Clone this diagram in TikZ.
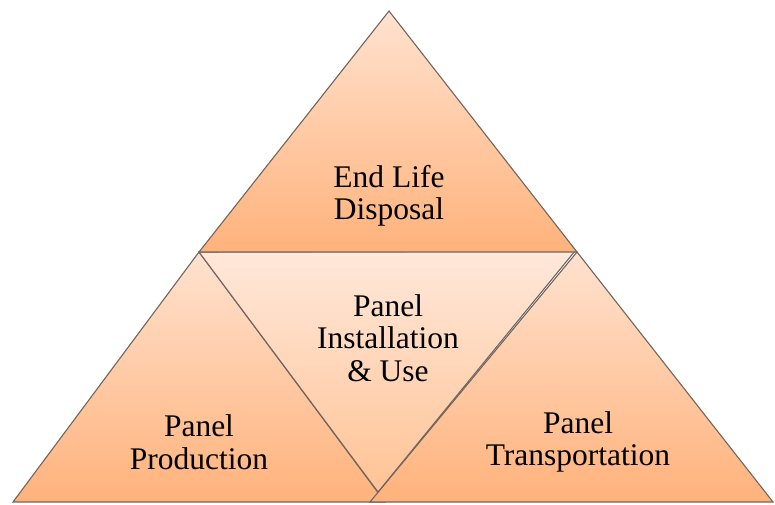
\documentclass[tikz,border=0pt]{standalone}
\usepackage{fontspec}
\setmainfont{Liberation Serif}
\definecolor{peachlt}{HTML}{FFE2CF}
\definecolor{peachdk}{HTML}{FFB27B}
\definecolor{midlt}{HTML}{FFE8DA}
\definecolor{middk}{HTML}{FFC395}
\definecolor{edge}{HTML}{6E6660}
\tikzset{
  seg/.style={draw=edge, line width=1.1pt, line join=miter, top color=peachlt, bottom color=peachdk},
  midseg/.style={seg, top color=midlt, bottom color=middk},
  lbl/.style={align=center, font=\fontsize{31.5}{32.5}\selectfont},
}
\begin{document}
\begin{tikzpicture}[x=1pt,y=1pt]
    \useasboundingbox (0,0) rectangle (775,504);

    \coordinate (apex) at (389,493);
    \coordinate (tl) at (199,252);
    \coordinate (tr) at (577,252);
    \coordinate (ml) at (199,252);
    \coordinate (mr) at (575,253);
    \coordinate (mb) at (378,12);
    \coordinate (bl) at (13,2);
    \coordinate (blr) at (385,2);
    \coordinate (brl) at (370,2);
    \coordinate (br) at (773,2);

    \path[seg] (tl) -- (bl) -- (blr) -- cycle;
    \path[seg] (tr) -- (brl) -- (br) -- cycle;
    \path[midseg] (ml) -- (mr) -- (mb) -- cycle;
    \path[seg] (apex) -- (tl) -- (tr) -- cycle;

    \node[lbl] (disposal) at (389,308) {End Life\\Disposal};
    \node[lbl] (install) at (388,166) {Panel\\Installation\\\& Use};
    \node[lbl] (production) at (199,62) {Panel\\Production};
    \node[lbl] (transport) at (578,62) {Panel\\Transportation};
\end{tikzpicture}
\end{document}
